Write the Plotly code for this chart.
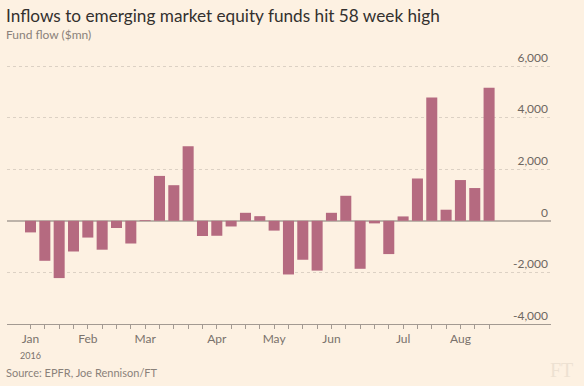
import plotly.graph_objects as go

# Weekly fund flows ($mn), weeks ending Wednesday, 2016
weeks = ["2016-01-06", "2016-01-13", "2016-01-20", "2016-01-27", "2016-02-03",
         "2016-02-10", "2016-02-17", "2016-02-24", "2016-03-02", "2016-03-09",
         "2016-03-16", "2016-03-23", "2016-03-30", "2016-04-06", "2016-04-13",
         "2016-04-20", "2016-04-27", "2016-05-04", "2016-05-11", "2016-05-18",
         "2016-05-25", "2016-06-01", "2016-06-08", "2016-06-15", "2016-06-22",
         "2016-06-29", "2016-07-06", "2016-07-13", "2016-07-20", "2016-07-27",
         "2016-08-03", "2016-08-10", "2016-08-17"]
flows = [-450, -1550, -2220, -1190, -650, -1120, -280, -880, 30,
         1740, 1380, 2890, -590, -580, -220, 310, 180, -380,
         -2080, -1510, -1930, 310, 970, -1860, -100, -1290, 170,
         1640, 4780, 430, 1580, 1270, 5160]

month_ticks = ["2016-01-06", "2016-02-03", "2016-03-02", "2016-04-06",
               "2016-05-04", "2016-06-01", "2016-07-06", "2016-08-03"]
month_labels = ["Jan<br><span style='font-size:9px'>2016</span>", "Feb", "Mar", "Apr",
                "May", "Jun", "Jul", "Aug"]

y_ticks = [-4000, -2000, 0, 2000, 4000, 6000]
y_labels = ["-4,000", "-2,000", "0", "2,000", "4,000", "6,000"]

BG = "#FDF1E2"
BAR = "#B56A80"
FONT = "Lato, 'Open Sans', sans-serif"
GREY = "#7a726c"

fig = go.Figure()
fig.add_trace(go.Bar(x=weeks, y=flows, marker=dict(color=BAR, line=dict(width=0)),
                     hoverinfo="skip"))

fig.update_layout(
    width=584, height=386,
    paper_bgcolor=BG, plot_bgcolor=BG,
    margin=dict(l=7, r=33, t=44, b=62, autoexpand=False),
    bargap=0.23,
    showlegend=False,
    font=dict(family=FONT, color=GREY),
)

fig.update_xaxes(
    type="category",
    range=[-1.64, 36.32],
    tickmode="array", tickvals=month_ticks, ticktext=month_labels,
    ticks="outside", ticklen=4, tickcolor="rgba(0,0,0,0)",
    tickfont=dict(size=12, color=GREY),
    showgrid=False, zeroline=False,
    showline=True, linecolor="#a39a92", linewidth=1,
    minor=dict(tickmode="array", tickvals=weeks, ticks="outside",
               ticklen=4, tickcolor="#a39a92", tickwidth=1, showgrid=False),
    automargin=False,
    fixedrange=True,
)

fig.update_yaxes(
    range=[-4000, 6853],
    side="right",
    tickmode="array", tickvals=y_ticks, ticktext=y_labels,
    ticklabelposition="inside top",
    ticks="", tickfont=dict(size=12, color="#6e6761"),
    showgrid=True, gridcolor="#dcd1c4", griddash="dot", gridwidth=1,
    zeroline=True, zerolinecolor="#bdb3a9", zerolinewidth=1.5,
    showline=False,
    automargin=False,
    fixedrange=True,
)

fig.add_annotation(text="Inflows to emerging market equity funds hit 58 week high",
                   xref="paper", yref="paper", x=-0.0055, y=1.1,
                   xanchor="left", yanchor="middle", showarrow=False,
                   font=dict(size=17.2, color="#33302e", family=FONT))
fig.add_annotation(text="Fund flow ($mn)",
                   xref="paper", yref="paper", x=-0.0055, y=1.0357,
                   xanchor="left", yanchor="middle", showarrow=False,
                   font=dict(size=12, color="#8a817a", family=FONT))
fig.add_annotation(text="Source: EPFR, Joe Rennison/FT",
                   xref="paper", yref="paper", x=-0.0055, y=-0.1732,
                   xanchor="left", yanchor="middle", showarrow=False,
                   font=dict(size=11, color="#8a817a", family=FONT))
fig.add_annotation(text="FT",
                   xref="paper", yref="paper", x=1.0202, y=-0.1643,
                   xanchor="center", yanchor="middle", showarrow=False,
                   font=dict(size=20, color="#ede1d2", family="'Liberation Serif', serif"))

fig.write_html("out.html",
               config={"displayModeBar": False, "staticPlot": True},
               post_script="document.body.style.margin='0';document.body.style.background='" + BG + "';")
